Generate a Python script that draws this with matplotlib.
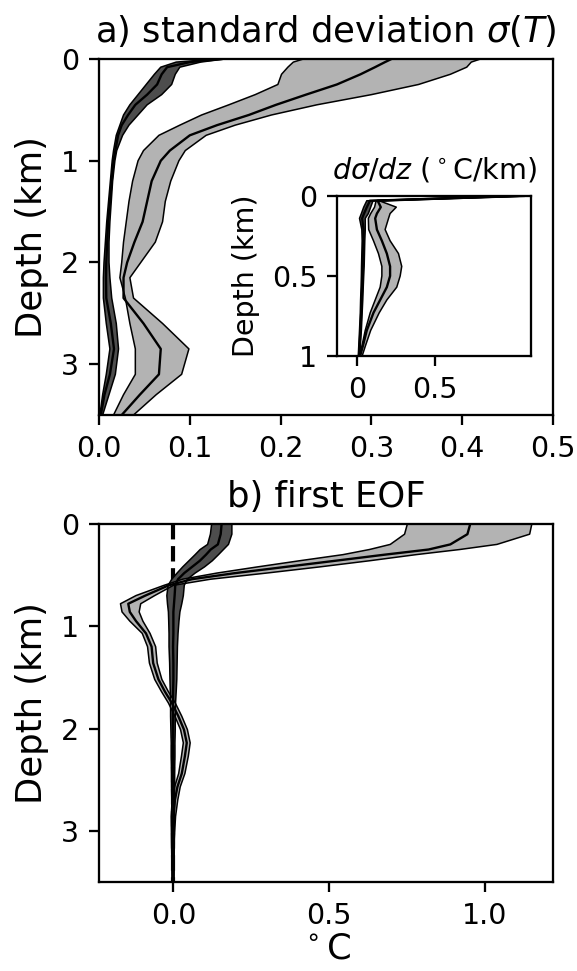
import numpy as np
import matplotlib.pyplot as plt

s = 2.05
plt.rcParams.update({
    'font.size': 10 * s,
    'axes.linewidth': 0.8 * s,
    'xtick.major.size': 3.5 * s, 'ytick.major.size': 3.5 * s,
    'xtick.major.width': 0.8 * s, 'ytick.major.width': 0.8 * s,
    'xtick.major.pad': 3.5 * s, 'ytick.major.pad': 3.5 * s,
    'axes.titlepad': 6 * s,
    'axes.labelpad': 4 * s,
})
big = 25.5

# ---- a) standard deviation, depth (km)
z_std = [0, 0.03, 0.08, 0.15, 0.25, 0.35, 0.45, 0.55, 0.65, 0.75, 0.9, 1.0,
         1.2, 1.4, 1.6, 1.8, 2.0, 2.15, 2.35, 2.6, 2.85, 3.1, 3.3, 3.5]
std_a_lo = [0.128, 0.085, 0.068, 0.061, 0.052, 0.043, 0.034, 0.027, 0.023, 0.019, 0.016, 0.0145,
            0.0125, 0.0105, 0.0085, 0.007, 0.0055, 0.0048, 0.0048, 0.008, 0.012, 0.008, 0.004, 0.001]
std_a_mid = [0.135, 0.100, 0.075, 0.069, 0.064, 0.053, 0.040, 0.032, 0.025, 0.021, 0.018, 0.016,
             0.014, 0.012, 0.010, 0.009, 0.008, 0.0077, 0.008, 0.013, 0.0165, 0.012, 0.006, 0.002]
std_a_hi = [0.138, 0.112, 0.089, 0.084, 0.080, 0.069, 0.053, 0.043, 0.033, 0.026, 0.0195, 0.0175,
            0.015, 0.0135, 0.012, 0.011, 0.011, 0.012, 0.014, 0.019, 0.0215, 0.018, 0.011, 0.004]
std_b_lo = [0.225, 0.214, 0.208, 0.201, 0.197, 0.172, 0.143, 0.113, 0.089, 0.066, 0.049, 0.043,
            0.037, 0.033, 0.030, 0.027, 0.025, 0.023, 0.029, 0.034, 0.040, 0.040, 0.027, 0.016]
std_b_mid = [0.322, 0.315, 0.304, 0.288, 0.262, 0.228, 0.195, 0.165, 0.130, 0.100, 0.078, 0.068,
             0.058, 0.053, 0.048, 0.039, 0.031, 0.027, 0.027, 0.049, 0.068, 0.066, 0.045, 0.025]
std_b_hi = [0.42, 0.41, 0.405, 0.387, 0.352, 0.30, 0.24, 0.19, 0.15, 0.118, 0.095, 0.088,
            0.079, 0.073, 0.070, 0.062, 0.046, 0.034, 0.038, 0.07, 0.099, 0.091, 0.063, 0.038]

# ---- inset: d sigma / dz
z_grad = [0, 0.03, 0.07, 0.11, 0.14, 0.21, 0.28, 0.36, 0.44, 0.5, 0.57, 0.65, 0.73, 0.84, 0.94, 1.0]
grad_a_lo = [1.05, 0.06, 0.04, 0.025, 0.013, 0.028, 0.03, 0.028, 0.026, 0.025, 0.023, 0.02, 0.018, 0.013, 0.008, 0.005]
grad_a_mid = [1.07, 0.08, 0.06, 0.042, 0.03, 0.039, 0.038, 0.036, 0.034, 0.032, 0.03, 0.027, 0.024, 0.019, 0.013, 0.01]
grad_a_hi = [1.09, 0.10, 0.085, 0.07, 0.05, 0.05, 0.047, 0.045, 0.043, 0.04, 0.037, 0.034, 0.03, 0.025, 0.018, 0.014]
grad_b_lo = [1.0, 0.12, 0.11, 0.085, 0.07, 0.072, 0.103, 0.135, 0.157, 0.157, 0.146, 0.114, 0.082, 0.05, 0.028, 0.013]
grad_b_mid = [1.03, 0.13, 0.15, 0.125, 0.114, 0.125, 0.157, 0.189, 0.21, 0.21, 0.189, 0.146, 0.103, 0.06, 0.034, 0.017]
grad_b_hi = [1.06, 0.14, 0.25, 0.21, 0.2, 0.178, 0.21, 0.264, 0.285, 0.275, 0.253, 0.189, 0.14, 0.085, 0.05, 0.03]

# ---- b) first EOF
z_eof = [0, 0.1, 0.2, 0.25, 0.3, 0.36, 0.42, 0.48, 0.54, 0.6, 0.7, 0.78, 0.86, 0.95, 1.07,
         1.2, 1.36, 1.52, 1.64, 1.75, 1.88, 2.01, 2.14, 2.27, 2.44, 2.57, 2.7, 2.86, 3.12, 3.5]
eof_a_lo = [0.123, 0.119, 0.11, 0.086, 0.07, 0.05, 0.03, 0.012, -0.005, -0.017, -0.021, -0.019, -0.016, -0.015, -0.014,
            -0.014, -0.012, -0.011, -0.01, -0.009, -0.009, -0.008, -0.007, -0.007, -0.006, -0.006, -0.005, -0.005, -0.004, -0.003]
eof_a_mid = [0.155, 0.152, 0.143, 0.12, 0.105, 0.085, 0.06, 0.035, 0.015, 0.006, 0.004, 0.002, 0.0, 0.0, 0.0,
             -0.001, 0.0, 0.0, -0.001, -0.001, -0.001, -0.001, -0.001, -0.001, -0.001, -0.001, 0.0, 0.0, 0.0, 0.0]
eof_a_hi = [0.188, 0.188, 0.177, 0.161, 0.145, 0.125, 0.1, 0.07, 0.045, 0.035, 0.032, 0.027, 0.021, 0.018, 0.015,
            0.013, 0.012, 0.011, 0.009, 0.007, 0.006, 0.006, 0.005, 0.005, 0.004, 0.004, 0.004, 0.003, 0.003, 0.002]
eof_b_lo = [0.752, 0.743, 0.697, 0.63, 0.545, 0.405, 0.27, 0.14, 0.03, -0.03, -0.12, -0.17, -0.165, -0.14, -0.1,
            -0.083, -0.077, -0.06, -0.038, -0.016, 0.005, 0.023, 0.032, 0.026, 0.017, 0.004, -0.004, -0.007, -0.006, -0.004]
eof_b_mid = [0.954, 0.945, 0.89, 0.82, 0.68, 0.52, 0.36, 0.2, 0.06, -0.015, -0.09, -0.145, -0.14, -0.12, -0.088,
             -0.07, -0.065, -0.048, -0.027, -0.005, 0.016, 0.034, 0.043, 0.037, 0.027, 0.013, 0.005, 0.0, -0.002, -0.002]
eof_b_hi = [1.152, 1.145, 1.04, 0.92, 0.78, 0.63, 0.47, 0.3, 0.12, 0.0, -0.06, -0.105, -0.11, -0.098, -0.075,
            -0.057, -0.052, -0.037, -0.016, 0.006, 0.027, 0.045, 0.054, 0.048, 0.037, 0.022, 0.014, 0.007, 0.002, 0.0]

dark = '0.3'
light = '0.7'


def band(ax, z, lo, mid, hi, color):
    ax.fill_betweenx(z, lo, hi, facecolor=color, edgecolor='none')
    ax.plot(lo, z, 'k', lw=1.1)
    ax.plot(hi, z, 'k', lw=1.1)
    ax.plot(mid, z, 'k', lw=1.7)


fig = plt.figure(figsize=(5.77, 9.71), dpi=100)

ax1 = fig.add_axes([0.1716, 0.5726, 0.7868, 0.3666])
band(ax1, z_std, std_a_lo, std_a_mid, std_a_hi, dark)
band(ax1, z_std, std_b_lo, std_b_mid, std_b_hi, light)
ax1.set_xlim(0, 0.5)
ax1.set_ylim(3.5, 0)
ax1.set_yticks([0, 1, 2, 3])
ax1.set_xticks([0, 0.1, 0.2, 0.3, 0.4, 0.5])
ax1.set_ylabel('Depth (km)', fontsize=big)
ax1.set_title(r'a) standard deviation $\sigma(T)$', fontsize=big)

axin = fig.add_axes([0.5846, 0.6334, 0.3352, 0.1648])
band(axin, z_grad, grad_a_lo, grad_a_mid, grad_a_hi, dark)
band(axin, z_grad, grad_b_lo, grad_b_mid, grad_b_hi, light)
axin.set_xlim(-0.13, 1.116)
axin.set_ylim(1, 0)
axin.set_xticks([0, 0.5])
axin.set_xticklabels(['0', '0.5'])
axin.set_yticks([0, 0.5, 1])
axin.set_yticklabels(['0', '0.5', '1'])
axin.set_ylabel('Depth (km)')
axin.set_title(r'$d\sigma/dz$ ($^\circ$C/km)', fontsize='medium')

ax2 = fig.add_axes([0.1716, 0.0917, 0.7868, 0.3687])
ax2.plot([0, 0], [0, 3.5], 'k--', lw=3, zorder=1)
band(ax2, z_eof, eof_a_lo, eof_a_mid, eof_a_hi, dark)
band(ax2, z_eof, eof_b_lo, eof_b_mid, eof_b_hi, light)
ax2.set_xlim(-0.239, 1.22)
ax2.set_ylim(3.5, 0)
ax2.set_yticks([0, 1, 2, 3])
ax2.set_xticks([0, 0.5, 1.0])
ax2.set_ylabel('Depth (km)', fontsize=big)
ax2.set_xlabel(r'$^\circ$C', fontsize=big, labelpad=1)
ax2.set_title('b) first EOF', fontsize=big)

fig.savefig('out.png', dpi=100)
